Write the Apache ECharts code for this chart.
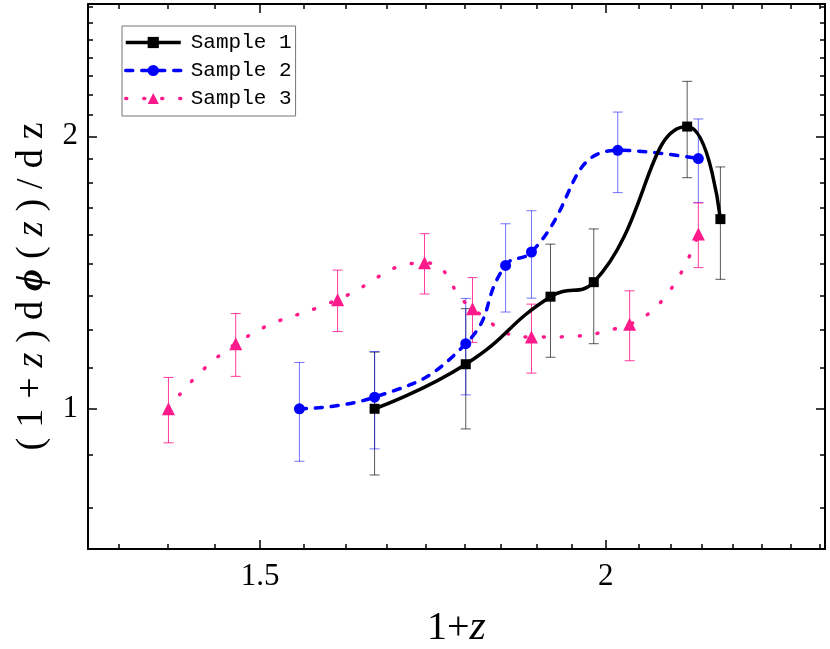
<!DOCTYPE html>
<html>
<head>
<meta charset="utf-8">
</head>
<body style="margin: 0">
<div id="container" style="width: 830px; height: 649px"></div>
<script src="https://cdn.jsdelivr.net/npm/echarts@6.0.0/dist/echarts.min.js"></script>
<script>
  // Sample 1
  const s1X = [1.65, 1.78, 1.91, 1.98, 2.14, 2.20];
  const s1Y = [1.00, 1.12, 1.33, 1.38, 2.05, 1.62];
  const s1Err = [0.155, 0.17, 0.19, 0.20, 0.25, 0.23];
  // Sample 2
  const s2X = [1.55, 1.65, 1.78, 1.84, 1.88, 2.02, 2.16];
  const s2Y = [1.00, 1.03, 1.18, 1.44, 1.49, 1.93, 1.89];
  const s2Err = [0.125, 0.127, 0.144, 0.161, 0.165, 0.197, 0.20];
  // Sample 3
  const s3X = [1.39, 1.47, 1.60, 1.72, 1.79, 1.88, 2.04, 2.16];
  const s3Y = [1.00, 1.18, 1.32, 1.45, 1.29, 1.20, 1.24, 1.56];
  const s3Err = [0.083, 0.094, 0.103, 0.111, 0.106, 0.105, 0.11, 0.128];

  const names = ['Sample 1', 'Sample 2', 'Sample 3'];
  const xTicks = [1.5, 2];
  const yTicks = [1, 2];
  const xRange = [1.3, 2.4];
  const yRange = [0.7, 2.8];

  const BLUE = '#0000ff';
  const PINK = '#ff1a8c';
  const SERIF = '"Liberation Serif", "DejaVu Serif", serif';

  const lg = Math.log10;

  // 8 minor divisions between majors, like the origin plot
  function minorTicks(majors, range) {
    const step = (majors[1] - majors[0]) / 9;
    const out = [];
    for (let k = -60; k <= 60; k++) {
      if (k % 9 === 0) continue;
      const v = majors[0] + k * step;
      if (v > range[0] && v < range[1]) out.push(v);
    }
    return out;
  }

  function fmt(v) {
    return String(+Math.pow(10, v).toFixed(2));
  }

  // decoration axis: value axis in log10 space, only ticks / labels
  function deco(pos, range, values, len, withLine, withLabels) {
    return {
      type: 'value',
      position: pos,
      min: lg(range[0]),
      max: lg(range[1]),
      axisLine: { show: withLine, onZero: false, lineStyle: { color: '#000', width: 2 } },
      axisTick: {
        show: true, inside: true, length: len,
        customValues: values.map(lg),
        lineStyle: { color: '#000', width: 1.5 }
      },
      axisLabel: {
        show: withLabels,
        customValues: values.map(lg),
        formatter: fmt,
        margin: 12,
        color: '#000',
        fontSize: 31,
        fontFamily: SERIF
      },
      splitLine: { show: false }
    };
  }

  const xMinor = minorTicks(xTicks, xRange);
  const yMinor = minorTicks(yTicks, yRange);

  const xBottom = deco('bottom', xRange, xTicks, 9, true, true);
  xBottom.name = '{n|1+}{i|z}';
  xBottom.nameLocation = 'middle';
  xBottom.nameGap = 58;
  xBottom.nameTextStyle = {
    rich: {
      n: { fontSize: 40, fontFamily: SERIF, color: '#000' },
      i: { fontSize: 42, fontFamily: SERIF, fontStyle: 'italic', color: '#000' }
    }
  };

  const yParts = [['(', 'n'], ['1', 'n'], ['+', 'n'], ['z', 'i'], [')', 'n'], ['d', 'n'], ['ϕ', 'b'],
    ['(', 'n'], ['z', 'i'], [')', 'n'], ['/', 'n'], ['d', 'n'], ['z', 'n']];
  const yLeft = deco('left', yRange, yTicks, 9, true, true);
  yLeft.axisLabel.margin = 10;
  yLeft.name = yParts.map(p => '{' + p[1] + '|' + p[0] + '}').join('');
  yLeft.nameLocation = 'middle';
  yLeft.nameGap = 37;
  yLeft.nameTextStyle = {
    padding: [0, 20, 0, 0],
    rich: {
      n: { fontSize: 38, fontFamily: SERIF, color: '#000', padding: [0, 5, 0, 5] },
      i: { fontSize: 38, fontFamily: SERIF, fontStyle: 'italic', color: '#000', padding: [0, 5, 0, 5] },
      b: { fontSize: 38, fontFamily: SERIF, fontStyle: 'italic', fontWeight: 'bold', color: '#000', padding: [0, 5, 0, 5] }
    }
  };

  function pairs(xs, ys) {
    return xs.map((x, i) => [x, ys[i]]);
  }

  function errSeries(name, xs, ys, es, color) {
    return {
      type: 'custom',
      name: name + ' error',
      xAxisIndex: 0,
      yAxisIndex: 0,
      z: 2,
      silent: true,
      data: xs.map((x, i) => [x, ys[i] - es[i], ys[i] + es[i]]),
      encode: { x: 0, y: [1, 2] },
      renderItem: function (params, api) {
        const lo = api.coord([api.value(0), api.value(1)]);
        const hi = api.coord([api.value(0), api.value(2)]);
        const w = 5;
        const st = { stroke: color, lineWidth: 1 };
        return {
          type: 'group',
          children: [
            { type: 'line', shape: { x1: lo[0], y1: lo[1], x2: hi[0], y2: hi[1] }, style: st },
            { type: 'line', shape: { x1: lo[0] - w, y1: lo[1], x2: lo[0] + w, y2: lo[1] }, style: st },
            { type: 'line', shape: { x1: hi[0] - w, y1: hi[1], x2: hi[0] + w, y2: hi[1] }, style: st }
          ]
        };
      }
    };
  }

  var dom = document.getElementById('container');
  var myChart = echarts.init(dom);
  var option = {
    animation: false,
    backgroundColor: '#fff',
    grid: { left: 88, right: 5, top: 4, bottom: 100, containLabel: false, outerBoundsMode: 'none' },
    legend: {
      data: names,
      orient: 'vertical',
      left: 122,
      top: 26,
      itemWidth: 55,
      itemHeight: 14,
      itemGap: 7,
      padding: [6, 4, 7, 2],
      borderColor: '#777',
      borderWidth: 1,
      backgroundColor: '#fff',
      selectedMode: false,
      lineStyle: { width: 3.5 },
      textStyle: { fontFamily: '"Liberation Mono", monospace', fontSize: 21, color: '#000', padding: [0, 0, 0, 5] }
    },
    xAxis: [
      { type: 'log', min: xRange[0], max: xRange[1], show: false },
      xBottom,
      deco('bottom', xRange, xMinor, 5, false, false),
      deco('top', xRange, xTicks, 9, true, false),
      deco('top', xRange, xMinor, 5, false, false)
    ],
    yAxis: [
      { type: 'log', min: yRange[0], max: yRange[1], show: false },
      yLeft,
      deco('left', yRange, yMinor, 5, false, false),
      deco('right', yRange, yTicks, 9, true, false),
      deco('right', yRange, yMinor, 5, false, false)
    ],
    series: [
      errSeries(names[0], s1X, s1Y, s1Err, 'rgba(0,0,0,0.65)'),
      errSeries(names[1], s2X, s2Y, s2Err, 'rgba(0,0,255,0.55)'),
      errSeries(names[2], s3X, s3Y, s3Err, 'rgba(255,26,140,0.85)'),
      {
        name: names[2], type: 'line', xAxisIndex: 0, yAxisIndex: 0, z: 3,
        data: pairs(s3X, s3Y), smooth: 0.5,
        symbol: 'triangle', symbolSize: 13,
        itemStyle: { color: PINK },
        lineStyle: { color: PINK, width: 3.5, type: [1, 17], cap: 'round' }
      },
      {
        name: names[1], type: 'line', xAxisIndex: 0, yAxisIndex: 0, z: 4,
        data: pairs(s2X, s2Y), smooth: 0.5,
        symbol: 'circle', symbolSize: 11,
        itemStyle: { color: BLUE },
        lineStyle: { color: BLUE, width: 3.5, type: [7, 9], cap: 'round' }
      },
      {
        name: names[0], type: 'line', xAxisIndex: 0, yAxisIndex: 0, z: 5,
        data: pairs(s1X, s1Y), smooth: 0.5,
        symbol: 'rect', symbolSize: 10,
        itemStyle: { color: '#000' },
        lineStyle: { color: '#000', width: 3.5 }
      }
    ]
  };
  myChart.setOption(option);
</script>
</body>
</html>
